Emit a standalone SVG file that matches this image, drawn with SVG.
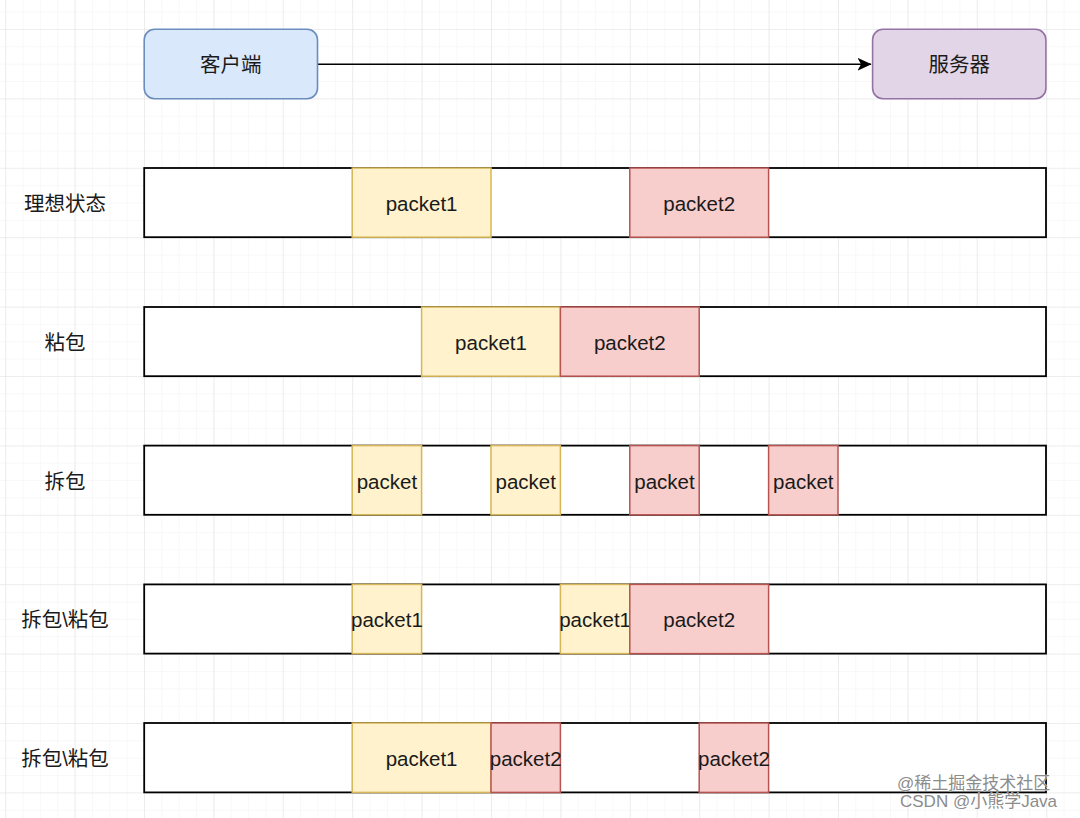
<svg xmlns="http://www.w3.org/2000/svg" width="1080" height="818" viewBox="0 0 1080 818">
<defs>
<pattern id="minor" x="5.2" y="29" width="17.35" height="17.35" patternUnits="userSpaceOnUse">
<path d="M0 0H17.35M0 0V17.35" fill="none" stroke="#f2f2f2" stroke-width="1"/>
</pattern>
<pattern id="major" x="5.2" y="29" width="69.4" height="69.4" patternUnits="userSpaceOnUse">
<path d="M0 0H69.4M0 0V69.4" fill="none" stroke="#e4e4e4" stroke-width="1.2"/>
</pattern>
<marker id="arrow" viewBox="0 0 14 13" refX="13.5" refY="6.5" markerWidth="14" markerHeight="13" markerUnits="userSpaceOnUse" orient="auto">
<path d="M0 0L14 6.5L0 13L3.5 6.5Z" fill="#000"/>
</marker>
</defs>
<style>
.lbl{font-family:"Liberation Sans","Noto Sans CJK SC",Arial,sans-serif;font-size:20.5px;fill:#1a1a1a;text-anchor:middle;dominant-baseline:central}
.row{fill:#fff;stroke:#000;stroke-width:1.8}
.y{fill:#fff2cc;stroke:#d6b656;stroke-width:1.5}
.r{fill:#f8cecc;stroke:#b85450;stroke-width:1.5}
.wm{font-family:"Liberation Sans","Noto Sans CJK SC",sans-serif;font-size:17px;fill:#8c8c8c;stroke:#fff;stroke-width:0.4;paint-order:stroke}
</style>
<rect width="1080" height="818" fill="#fff"/>
<rect width="1080" height="818" fill="url(#minor)"/>
<rect width="1080" height="818" fill="url(#major)"/>

<g id="connectors">
<path d="M317.5 64.3H871" fill="none" stroke="#000" stroke-width="1.6" marker-end="url(#arrow)"/>
</g>

<g id="client">
<rect x="144.2" y="29.3" width="173.3" height="69.4" rx="10.4" fill="#dae8fc" stroke="#6c8ebf" stroke-width="1.6"/>
<text class="lbl" x="230.8" y="64.3">客户端</text>
</g>
<g id="server">
<rect x="872.6" y="29.3" width="173.3" height="69.4" rx="10.4" fill="#e1d5e7" stroke="#9673a6" stroke-width="1.6"/>
<text class="lbl" x="959.2" y="64.3">服务器</text>
</g>

<g id="row1">
<text class="lbl" x="65" y="203">理想状态</text>
<rect class="row" x="144.2" y="168" width="901.8" height="69.2"/>
<rect class="y" x="352.2" y="168" width="138.8" height="69.2"/>
<text class="lbl" x="421.6" y="203">packet1</text>
<rect class="r" x="629.8" y="168" width="138.8" height="69.2"/>
<text class="lbl" x="699.2" y="203">packet2</text>
</g>

<g id="row2">
<text class="lbl" x="65" y="342">粘包</text>
<rect class="row" x="144.2" y="307" width="901.8" height="69.2"/>
<rect class="y" x="421.6" y="307" width="138.8" height="69.2"/>
<text class="lbl" x="491" y="342">packet1</text>
<rect class="r" x="560.4" y="307" width="138.8" height="69.2"/>
<text class="lbl" x="629.8" y="342">packet2</text>
</g>

<g id="row3">
<text class="lbl" x="65" y="481">拆包</text>
<rect class="row" x="144.2" y="445.6" width="901.8" height="69.2"/>
<rect class="y" x="352.2" y="445.6" width="69.4" height="69.2"/>
<text class="lbl" x="386.9" y="481">packet</text>
<rect class="y" x="491" y="445.6" width="69.4" height="69.2"/>
<text class="lbl" x="525.7" y="481">packet</text>
<rect class="r" x="629.8" y="445.6" width="69.4" height="69.2"/>
<text class="lbl" x="664.5" y="481">packet</text>
<rect class="r" x="768.6" y="445.6" width="69.4" height="69.2"/>
<text class="lbl" x="803.3" y="481">packet</text>
</g>

<g id="row4">
<text class="lbl" x="65" y="619">拆包\粘包</text>
<rect class="row" x="144.2" y="584.4" width="901.8" height="69.2"/>
<rect class="y" x="352.2" y="584.4" width="69.4" height="69.2"/>
<text class="lbl" x="386.9" y="619.5">packet1</text>
<rect class="y" x="560.4" y="584.4" width="69.4" height="69.2"/>
<text class="lbl" x="595.1" y="619.5">packet1</text>
<rect class="r" x="629.8" y="584.4" width="138.8" height="69.2"/>
<text class="lbl" x="699.2" y="619.5">packet2</text>
</g>

<g id="row5">
<text class="lbl" x="65" y="758">拆包\粘包</text>
<rect class="row" x="144.2" y="723" width="901.8" height="69.4"/>
<rect class="y" x="352.2" y="723" width="138.8" height="69.4"/>
<text class="lbl" x="421.6" y="758">packet1</text>
<rect class="r" x="491" y="723" width="69.4" height="69.4"/>
<text class="lbl" x="525.7" y="758">packet2</text>
<rect class="r" x="699.2" y="723" width="69.4" height="69.4"/>
<text class="lbl" x="733.9" y="758">packet2</text>
</g>

<g id="watermark">
<text class="wm" x="897" y="789">@稀土掘金技术社区</text>
<text class="wm" x="900" y="807">CSDN @小熊学Java</text>
</g>
</svg>
